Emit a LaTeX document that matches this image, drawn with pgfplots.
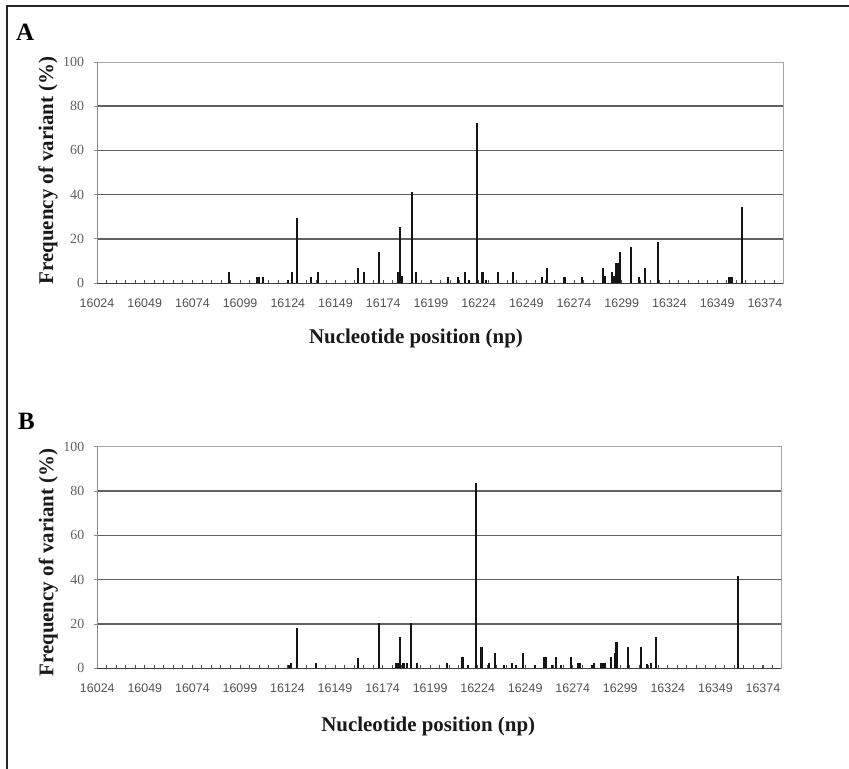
\documentclass[border=0pt]{standalone}
\usepackage{pgfplots}
\pgfplotsset{compat=1.18}
\usepackage{fontspec}
\setmainfont{Liberation Serif}
\newfontfamily\tickfont{Liberation Sans}

\pgfplotsset{panel/.style={
  scale only axis, anchor=south west,
  xmin=16024, xmax=16383.5, ymin=0, ymax=100,
  scaled x ticks=false,
  xtick={16024,16049,...,16374},
  minor xtick={16024,16029,...,16383},
  ytick={20,40,60,80}, extra y ticks={0,100},
  extra y tick style={grid=none},
  ymajorgrids, grid style={line width=1.5bp, draw=black!62},
  axis x line*=bottom, axis y line*=left,
  axis background/.style={draw=black!35, line width=0.8bp},
  x axis line style={draw=black!75, line width=1bp},
  y axis line style={draw=black!45, line width=0.8bp},
  xtick align=inside, ytick align=outside,
  major tick length=3.5bp, minor tick length=3bp,
  xtick style={draw=black!70, line width=0.8bp},
  minor x tick style={draw=black!70, line width=0.8bp},
  ytick style={draw=black!45, line width=0.8bp},
  /pgf/number format/1000 sep={},
  /pgf/number format/assume math mode=true,
  xticklabel={\pgfmathprintnumber[fixed, precision=0, 1000 sep={}]{\tick}},
  xticklabel style={font=\tickfont\fontsize{12.5}{13}\selectfont, text=black!68, anchor=center, yshift=-20bp},
  yticklabel style={font=\fontsize{14}{15}\selectfont, text=black!62, anchor=east, xshift=-6bp},
  xlabel={Nucleotide position (np)},
  ylabel={Frequency of variant (\%)},
  label style={font=\bfseries\fontsize{21}{24}\selectfont, text=black!90},
  clip=false,
}}

\begin{document}
\begin{tikzpicture}
\useasboundingbox (0,0) rectangle (849bp,-769bp);
\draw[line width=1.8bp, black!85] (7bp,-769bp) -- (7bp,-6bp) -- (849bp,-6bp);
\node[font=\bfseries\fontsize{25}{28}\selectfont] at (25bp,-32.5bp) {A};
\node[font=\bfseries\fontsize{25}{28}\selectfont] at (26.5bp,-421.5bp) {B};

\begin{axis}[panel, at={(97bp,-283bp)}, width=686bp, height=221bp,
  xlabel style={at={(axis description cs:0.465,-0.253)}, anchor=center},
  ylabel style={at={(axis description cs:-0.0714,0.51)}, anchor=center, rotate=0}]
\addplot[ycomb, draw=black!92, line width=2.1bp, mark=none] coordinates {
(16093,5) (16108,2.5) (16109,2.5) (16111,2.5) (16124,1.5) (16126,5)
(16129,29.5) (16136,2.5) (16140,5) (16161,7) (16164,5) (16172,14)
(16182,5) (16183,25.5) (16184,3) (16189,41) (16191,5) (16208,2.5)
(16213,2.5) (16217,5) (16219,1.5) (16223,72.5) (16226,5) (16228,1.5)
(16234,5) (16242,5) (16257,2.5) (16260,7) (16269,2.5) (16278,2.5)
(16289,7) (16290,3) (16294,5) (16295,3) (16296,9) (16297,9) (16298,14)
(16304,16.4) (16308,2.5) (16311,7) (16318,18.4)
(16355,2.5) (16356,2.5) (16357,2.5) (16362,34.2)
};
\end{axis}

\begin{axis}[panel, at={(97.3bp,-668.3bp)}, width=683.7bp, height=221.6bp,
  xlabel style={at={(axis description cs:0.484,-0.264)}, anchor=center},
  ylabel style={at={(axis description cs:-0.0716,0.477)}, anchor=center, rotate=0}]
\addplot[ycomb, draw=black!92, line width=2.1bp, mark=none] coordinates {
(16125,1.5) (16126,2.5) (16129,18.3) (16139,2.5) (16161,4.8) (16172,20.5)
(16181,2.5) (16182,2.5) (16183,14.3) (16185,2.5) (16187,2.5) (16189,20.5)
(16192,2.5) (16208,2.5) (16216,5) (16219,1.5) (16223,83.4) (16226,9.5)
(16230,2.5) (16233,7) (16238,1.5) (16242,2.5) (16244,1.5) (16248,7)
(16254,1.5) (16259,5) (16260,5) (16263,1.5) (16265,5) (16268,1.5)
(16273,5) (16277,2.5) (16278,2.5) (16284,1.5) (16285,2.5)
(16289,2.5) (16290,2.5) (16291,2.5) (16294,5) (16296,7) (16297,12)
(16303,9.5) (16310,9.5) (16313,2) (16315,2.5) (16318,14) (16361,41.7)
};
\end{axis}
\end{tikzpicture}
\end{document}
